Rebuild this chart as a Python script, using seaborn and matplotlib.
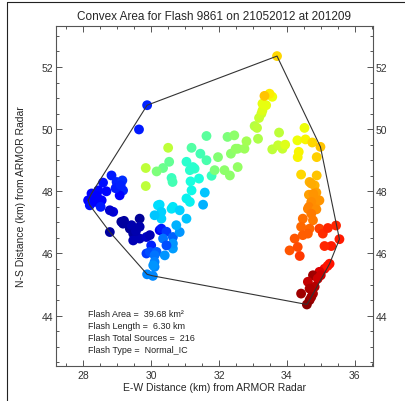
import numpy as np
import pandas as pd
import seaborn as sns
import matplotlib
matplotlib.use('Agg')
import matplotlib.pyplot as plt
from matplotlib.lines import Line2D
from matplotlib.ticker import MultipleLocator

# source positions (km from ARMOR radar) and relative source time (0..1)
x_km = [28.78, 29.12, 29.17, 29.37, 29.42, 29.47, 29.47, 29.66, 29.66, 29.66,
        29.86, 29.96, 28.88, 28.78, 30.25, 29.20, 29.55,
        28.83, 28.58, 28.98, 29.15, 29.17, 29.07, 28.68, 28.44, 28.24, 28.14,
        28.19, 28.34, 28.54, 28.51, 28.40, 28.95, 29.10, 29.64, 29.88,
        30.00, 30.30, 30.45, 30.64, 30.35, 29.86, 29.96, 30.16, 30.10, 30.40,
        30.64, 30.64, 30.10, 30.10, 30.06, 29.88, 30.05, 30.45, 30.84, 30.74,
        30.30, 30.20, 30.25, 30.30, 30.10, 30.60, 30.64, 30.84, 31.04, 31.04,
        31.14, 31.53, 31.19, 31.58, 31.16, 31.41, 31.78,
        30.60, 30.63, 31.04, 31.14, 31.28, 31.23, 31.19, 31.45, 31.63, 31.63,
        30.53, 30.35, 30.16, 31.87, 31.97, 32.16, 32.32, 32.55, 32.25, 32.45,
        32.35, 32.55, 32.75, 32.49, 32.81,
        29.84, 29.84, 30.50, 33.15, 33.05, 33.12, 33.18, 33.77, 33.57, 33.74,
        33.87, 33.25,
        33.28, 33.28, 33.39, 33.57, 33.49, 33.95, 34.31, 34.52, 34.55, 34.35,
        34.32, 34.42,
        33.34, 33.71, 34.75, 34.99, 34.88, 34.88,
        34.67, 34.82, 34.72, 34.87, 34.65, 34.78, 34.91, 34.96, 34.72, 34.62,
        34.65, 34.87, 34.72, 34.77, 34.47,
        34.67, 34.42, 34.47, 34.62, 34.23, 34.08, 34.32, 34.38, 34.96,
        35.06, 35.21, 35.45, 35.55, 35.31, 35.11, 35.26, 35.11, 35.20,
        34.96, 34.77, 34.91, 34.62, 34.82, 34.67, 34.42, 34.77, 34.67, 34.59,
        34.72, 35.00]
y_km = [46.69, 47.02, 46.96, 46.80, 46.91, 46.64, 46.42, 47.12, 46.86, 46.48,
        46.53, 46.59, 47.34, 47.39, 46.75, 47.05, 46.72,
        48.51, 48.28, 48.30, 48.35, 48.03, 47.87, 48.00, 48.03, 47.93, 47.71,
        47.55, 47.66, 47.71, 47.50, 47.85, 48.10, 48.20, 49.99, 50.77,
        46.26, 46.80, 46.70, 46.53, 46.48, 46.00, 46.05, 46.05, 45.94, 45.94,
        46.16, 46.32, 45.73, 45.57, 45.62, 45.33, 45.28, 46.26, 46.69, 46.91,
        47.12, 47.55, 47.57, 47.34, 47.23, 47.44, 47.50, 47.39, 47.12, 47.77,
        47.66, 47.57, 48.03, 47.96, 48.32, 48.41, 48.50,
        48.43, 48.30, 48.95, 48.68, 48.73, 48.78, 49.40, 49.21, 49.00, 49.78,
        48.95, 48.75, 48.64, 48.68, 49.10, 48.68, 48.51, 48.78, 49.75, 49.80,
        49.21, 49.37, 49.37, 49.37, 49.61,
        48.75, 48.17, 49.40, 49.69, 50.10, 50.04, 50.36, 49.89, 49.35, 49.48,
        49.37, 50.50,
        50.60, 50.82, 50.77, 51.04, 51.14, 49.50, 49.64, 50.04, 49.67, 49.27,
        49.10, 48.54,
        51.07, 52.35, 49.57, 49.43, 49.10, 48.51,
        48.30, 48.19, 48.25, 47.96, 47.89, 47.92, 47.68, 47.71, 47.66, 47.44,
        47.50, 47.42, 47.28, 47.07, 47.12,
        46.80, 46.86, 46.59, 46.64, 46.48, 46.10, 46.21, 45.92, 46.80,
        46.64, 46.82, 46.90, 46.46, 46.24, 46.24, 45.67, 45.51, 45.60,
        45.41, 45.30, 45.19, 45.09, 44.93, 44.87, 44.71, 44.71, 44.50, 44.36,
        44.60, 45.30]
t_rel = [0.03, 0.02, 0.03, 0.02, 0.04, 0.03, 0.05, 0.02, 0.04, 0.05,
         0.06, 0.05, 0.08, 0.07, 0.10, 0.03, 0.04,
         0.15, 0.14, 0.16, 0.17, 0.16, 0.12, 0.13, 0.13, 0.12, 0.12,
         0.14, 0.11, 0.12, 0.15, 0.12, 0.15, 0.16, 0.15, 0.16,
         0.16, 0.15, 0.18, 0.22, 0.24, 0.18, 0.20, 0.22, 0.24, 0.27,
         0.28, 0.27, 0.25, 0.26, 0.27, 0.26, 0.26, 0.20, 0.27, 0.30,
         0.33, 0.34, 0.34, 0.33, 0.32, 0.35, 0.35, 0.33, 0.32, 0.36,
         0.36, 0.30, 0.37, 0.32, 0.38, 0.38, 0.42,
         0.42, 0.43, 0.40, 0.40, 0.41, 0.40, 0.45, 0.43, 0.44, 0.46,
         0.47, 0.48, 0.50, 0.50, 0.51, 0.52, 0.52, 0.53, 0.50, 0.52,
         0.52, 0.53, 0.54, 0.53, 0.55,
         0.58, 0.58, 0.58, 0.56, 0.57, 0.58, 0.59, 0.58, 0.58, 0.59,
         0.59, 0.60,
         0.62, 0.63, 0.63, 0.64, 0.66, 0.62, 0.64, 0.64, 0.65, 0.65,
         0.65, 0.68,
         0.70, 0.68, 0.68, 0.70, 0.69, 0.70,
         0.72, 0.72, 0.73, 0.74, 0.74, 0.75, 0.75, 0.75, 0.76, 0.77,
         0.77, 0.76, 0.78, 0.78, 0.79,
         0.80, 0.80, 0.81, 0.81, 0.82, 0.82, 0.83, 0.85, 0.84,
         0.86, 0.87, 0.87, 0.88, 0.88, 0.87, 0.89, 0.90, 0.89,
         0.92, 0.97, 0.93, 0.94, 0.95, 0.96, 0.97, 0.96, 0.98, 0.99,
         0.97, 0.93]

title = 'Convex Area for Flash 9861 on 21052012 at 201209'
info_lines = ['Flash Area =  39.68 km²',
              'Flash Length =  6.30 km',
              'Flash Total Sources =  216',
              'Flash Type =  Normal_IC']


def convex_hull(pts):
  # monotone chain
  pts = sorted(set(pts))
  def cross(o, a, b):
    return (a[0]-o[0])*(b[1]-o[1]) - (a[1]-o[1])*(b[0]-o[0])
  lower, upper = [], []
  for p in pts:
    while len(lower) >= 2 and cross(lower[-2], lower[-1], p) <= 0:
      lower.pop()
    lower.append(p)
  for p in reversed(pts):
    while len(upper) >= 2 and cross(upper[-2], upper[-1], p) <= 0:
      upper.pop()
    upper.append(p)
  hull = lower[:-1] + upper[:-1]
  return np.array(hull + [hull[0]])


if __name__ == '__main__':

  sns.set_style('ticks')
  plt.rcParams['font.family'] = ['Liberation Sans', 'DejaVu Sans']
  grey = '#555555'

  data = pd.DataFrame({'x': x_km, 'y': y_km, 't': t_rel})

  fig = plt.figure(figsize=(4.05, 4.02), dpi=100)
  ax = fig.add_axes([0.138, 0.087, 0.783, 0.846])

  sns.scatterplot(data=data, x='x', y='y', hue='t',
                  palette=matplotlib.colormaps['jet'],
                  hue_norm=(0, 1), s=50, linewidth=0, legend=False, ax=ax,
                  zorder=2)

  hull = convex_hull(list(zip(x_km, y_km)))
  ax.plot(hull[:, 0], hull[:, 1], color='#333333', lw=0.8, zorder=3)

  ax.set_xlim(27.19, 36.54)
  ax.set_ylim(42.38, 53.32)
  ax.xaxis.set_major_locator(MultipleLocator(2))
  ax.xaxis.set_minor_locator(MultipleLocator(0.5))
  ax.yaxis.set_major_locator(MultipleLocator(2))
  ax.yaxis.set_minor_locator(MultipleLocator(0.5))
  ax.tick_params(which='both', direction='in', top=True, right=True,
                 labelright=True, color=grey, labelcolor='#333333',
                 labelsize=7.5, width=0.7)
  ax.tick_params(which='major', length=4.3)
  ax.tick_params(which='minor', length=2.2)
  ax.tick_params(axis='y', pad=2)
  ax.tick_params(axis='x', pad=3)
  for sp in ax.spines.values():
    sp.set_color(grey)
    sp.set_linewidth(0.8)

  ax.set_title(title, fontsize=8.5, pad=5)
  ax.set_xlabel('E-W Distance (km) from ARMOR Radar', fontsize=7.5, labelpad=1)
  ax.set_ylabel('N-S Distance (km) from ARMOR Radar', fontsize=7.5, labelpad=11)

  for i, line in enumerate(info_lines):
    ax.text(0.102, 0.153 - i*0.0345, line, transform=ax.transAxes,
            fontsize=6.5, va='center', ha='left', color='#222222')

  # thin frame round the picture
  fig.add_artist(Line2D([7/405, 1], [1 - 2.7/402]*2, color='#222222', lw=0.8))
  fig.add_artist(Line2D([7/405]*2, [0, 1 - 2.7/402], color='#222222', lw=0.8))

  fig.savefig('out.png', dpi=100)
